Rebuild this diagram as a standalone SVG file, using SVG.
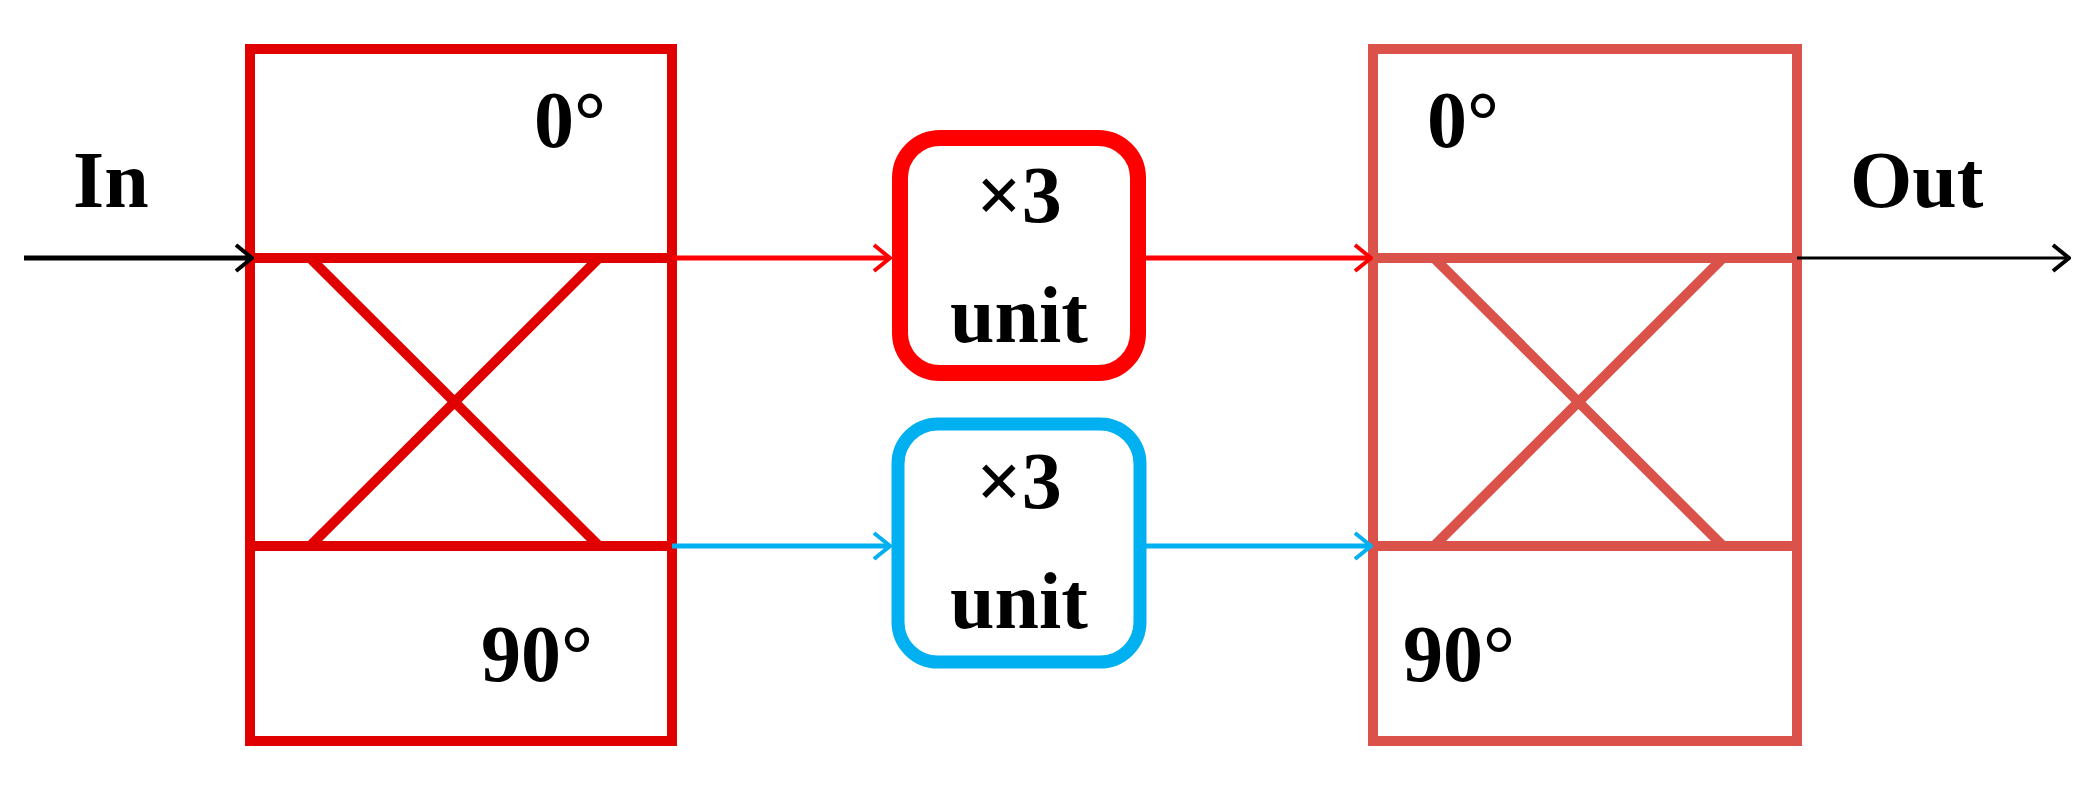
<svg xmlns="http://www.w3.org/2000/svg" width="2091" height="786" viewBox="0 0 2091 786">
<style>
text{font-family:"Liberation Serif",serif;font-weight:bold;font-size:80px;fill:#000}
.c{text-anchor:middle}
.l{fill:none;stroke:#e00000;stroke-width:10}
.r{fill:none;stroke:#db524b;stroke-width:10}
</style>
<defs>
<marker id="ak" markerWidth="20" markerHeight="30" refX="18" refY="15" orient="auto" markerUnits="userSpaceOnUse"><path d="M2 2 L18 15 L2 28" fill="none" stroke="#000" stroke-width="4"/></marker>
<marker id="ar" markerWidth="20" markerHeight="30" refX="18" refY="15" orient="auto" markerUnits="userSpaceOnUse"><path d="M2 2 L18 15 L2 28" fill="none" stroke="#ff0000" stroke-width="4"/></marker>
<marker id="ab" markerWidth="20" markerHeight="30" refX="18" refY="15" orient="auto" markerUnits="userSpaceOnUse"><path d="M2 2 L18 15 L2 28" fill="none" stroke="#00b0f0" stroke-width="4"/></marker>
</defs>
<g id="hybrid1">
<rect class="l" x="250" y="49" width="422" height="692"/>
<path class="l" d="M250 258H672M250 546H672M310 258L599 546M599 258L310 546"/>
<text x="534" y="147">0°</text>
<text x="481" y="681">90°</text>
</g>
<g id="hybrid2">
<rect class="r" x="1373" y="49" width="424" height="692"/>
<path class="r" d="M1373 258H1797M1373 546H1797M1434 258L1723 546M1723 258L1434 546"/>
<text x="1427" y="147">0°</text>
<text x="1403" y="681">90°</text>
</g>
<g id="unit1">
<rect x="900" y="138" width="238" height="235" rx="40" fill="none" stroke="#ff0000" stroke-width="16"/>
<text class="c" x="1019" y="222">×3</text>
<text class="c" x="1019" y="342">unit</text>
</g>
<g id="unit2">
<rect x="898" y="424" width="242" height="238" rx="40" fill="none" stroke="#00b0f0" stroke-width="13"/>
<text class="c" x="1019" y="508">×3</text>
<text class="c" x="1019" y="628">unit</text>
</g>
<g id="labels">
<text x="73" y="207">In</text>
<text x="1850" y="207">Out</text>
</g>
<g id="connectors" fill="none" stroke-width="5">
<path d="M24 258H252" stroke="#000" marker-end="url(#ak)"/>
<path d="M672 258H890" stroke="#ff0000" marker-end="url(#ar)"/>
<path d="M1146 258H1371" stroke="#ff0000" marker-end="url(#ar)"/>
<path d="M1797 258H2069" stroke="#000" stroke-width="3" marker-end="url(#ak)"/>
<path d="M672 546H890" stroke="#00b0f0" marker-end="url(#ab)"/>
<path d="M1146 546H1371" stroke="#00b0f0" marker-end="url(#ab)"/>
</g>
</svg>
